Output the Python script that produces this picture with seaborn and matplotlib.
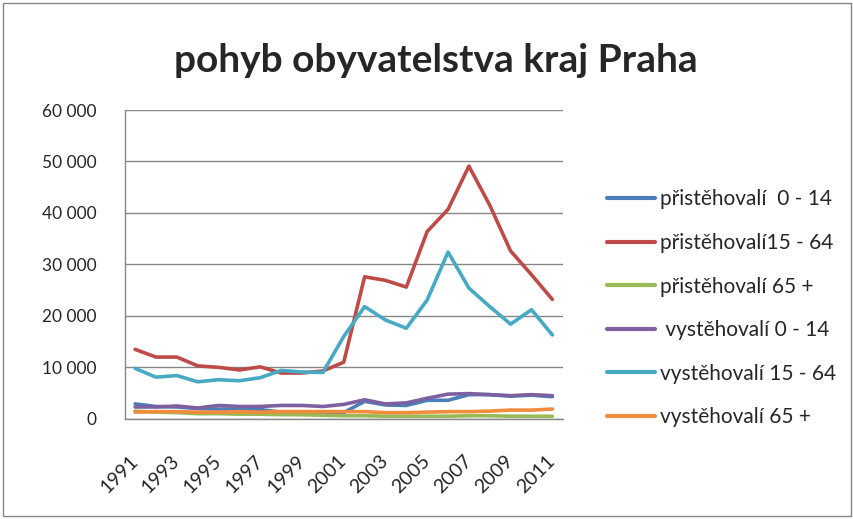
import numpy as np
import pandas as pd
import matplotlib
matplotlib.use("Agg")
import matplotlib.pyplot as plt
import matplotlib.transforms as mtransforms
import seaborn as sns
from matplotlib.ticker import FuncFormatter
from matplotlib.patches import Rectangle

# roky
roky = list(range(1991, 2012))

# odhad hodnot z grafu
pristehovali_0_14 = [2900, 2400, 2300, 2000, 1900, 1900, 1800, 1300, 1200, 1100, 1200,
                     3400, 2700, 2600, 3600, 3600, 4700, 4700, 4400, 4600, 4300]
pristehovali_15_64 = [13500, 12000, 12000, 10300, 10000, 9500, 10100, 8900, 8900, 9300, 11000,
                      27600, 26900, 25600, 36400, 40700, 49100, 41500, 32600, 28000, 23200]
pristehovali_65 = [1500, 1300, 1200, 1000, 1000, 900, 900, 800, 800, 700, 600,
                   600, 500, 500, 500, 500, 600, 600, 500, 500, 500]
vystehovali_0_14 = [2300, 2300, 2500, 2100, 2600, 2400, 2400, 2600, 2600, 2400, 2800,
                    3700, 2900, 3100, 4000, 4800, 4900, 4700, 4500, 4700, 4500]
vystehovali_15_64 = [9800, 8100, 8400, 7200, 7600, 7400, 8000, 9400, 9100, 9000, 16000,
                     21800, 19200, 17600, 23100, 32400, 25400, 21800, 18400, 21200, 16300]
vystehovali_65 = [1300, 1400, 1400, 1300, 1300, 1400, 1300, 1400, 1400, 1400, 1400,
                  1400, 1200, 1200, 1300, 1400, 1400, 1500, 1700, 1700, 1900]

nazvy = ["přistěhovalí  0 - 14", "přistěhovalí15 - 64", "přistěhovalí 65 +",
         " vystěhovalí 0 - 14", "vystěhovalí 15 - 64", "vystěhovalí 65 +"]
barvy = ["#4A7EBB", "#BE4B48", "#98B954", "#7D60A0", "#46AAC5", "#F08C3C"]

serie = [pristehovali_0_14, pristehovali_15_64, pristehovali_65,
         vystehovali_0_14, vystehovali_15_64, vystehovali_65]

radky = []
for nazev, hodnoty in zip(nazvy, serie):
    for rok, h in zip(roky, hodnoty):
        radky.append({"rok": rok, "pocet": h, "skupina": nazev})
df = pd.DataFrame(radky)

sns.set_style("white")
plt.rcParams["font.family"] = ["Lato", "DejaVu Sans"]

fig = plt.figure(figsize=(8.54, 5.19), dpi=100)
ax = fig.add_axes([0.146, 0.193, 0.513, 0.595])

sns.lineplot(data=df, x="rok", y="pocet", hue="skupina", hue_order=nazvy,
             palette=barvy, linewidth=2.6, ax=ax, legend=False)

ax.set_xlim(1990.5, 2011.5)
ax.set_ylim(0, 60000)
ax.set_yticks(range(0, 60001, 10000))
ax.yaxis.set_major_formatter(FuncFormatter(lambda v, p: f"{int(v):,}".replace(",", " ")))
ax.set_xticks(roky[::2])
ax.set_xticklabels([str(r) for r in roky[::2]], rotation=45, ha="right",
                   rotation_mode="anchor", fontsize=14)
ax.tick_params(axis="y", labelsize=12.5, length=0, pad=20)
ax.tick_params(axis="x", length=0, pad=24)
# posun popisku let trochu doleva
posun = mtransforms.ScaledTranslation(-0.06, 0, fig.dpi_scale_trans)
for lbl in ax.get_xticklabels():
    lbl.set_transform(lbl.get_transform() + posun)
ax.set_xlabel("")
ax.set_ylabel("")
ax.grid(axis="y", color="#868686", linewidth=1)
for s in ["top", "right"]:
    ax.spines[s].set_visible(False)
for s in ["left", "bottom"]:
    ax.spines[s].set_color("#868686")
    ax.spines[s].set_linewidth(1)

fig.text(0.51, 0.884, "pohyb obyvatelstva kraj Praha", ha="center", va="center",
         fontsize=28, fontweight="bold")

handles = [plt.Line2D([], [], color=c, linewidth=3) for c in barvy]
fig.legend(handles, nazvy, loc="upper left", bbox_to_anchor=(0.711, 0.635),
           frameon=False, fontsize=15, handlelength=2.3, handletextpad=0.25,
           labelspacing=1.13, borderaxespad=0, borderpad=0)

fig.patches.append(Rectangle((0.003, 0.005), 0.994, 0.99, transform=fig.transFigure,
                             fill=False, edgecolor="#868686", linewidth=1))

fig.savefig("out.png", dpi=100)
